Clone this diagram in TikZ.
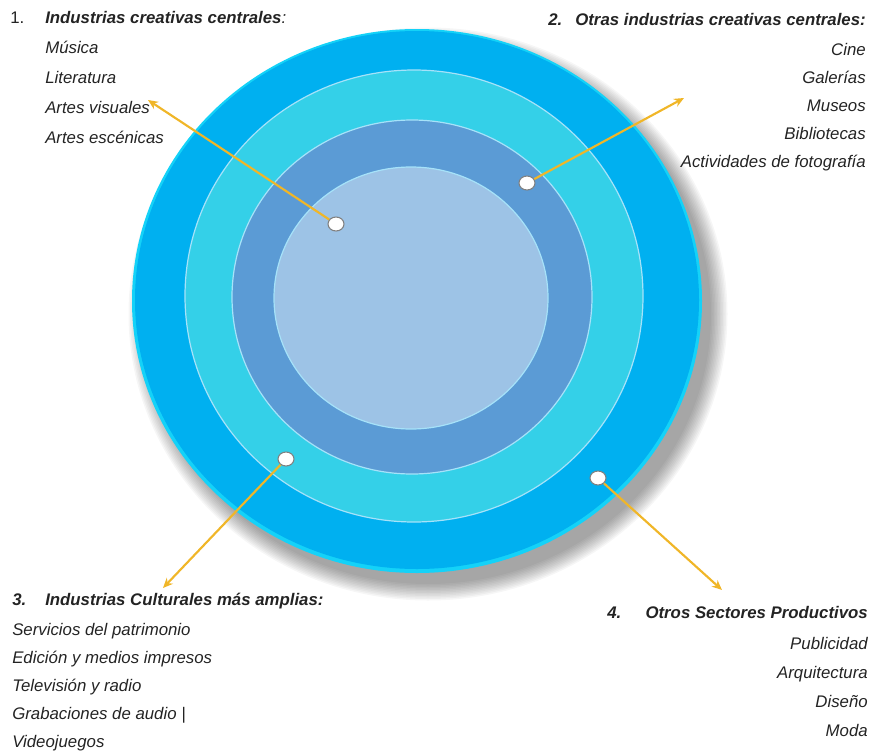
\documentclass[tikz,border=0pt]{standalone}
\usepackage{fontspec}
\setmainfont{Liberation Sans}
\usepackage{tikz}
\usetikzlibrary{arrows.meta,shapes}
\definecolor{outerBlue}{RGB}{0,176,240}
\definecolor{rimCyan}{RGB}{20,210,248}
\definecolor{ringCyan}{RGB}{52,208,232}
\definecolor{ringBlue}{RGB}{91,155,213}
\definecolor{coreBlue}{RGB}{157,195,230}
\definecolor{arrowGold}{RGB}{240,182,40}
\definecolor{textGrey}{RGB}{35,35,35}

\begin{document}
\begin{tikzpicture}
	[ x=0.75pt, y=-0.75pt,
		ring/.style={line width=0.9pt,draw=white!65!cyan},
		spot/.style={ellipse,draw=gray,line width=0.8pt,fill=white,minimum width=12pt,minimum height=10.5pt,inner sep=0pt},
		ringArrow/.style={-{Stealth[length=7.5pt,width=6.5pt]},line width=1.6pt,draw=arrowGold},
		heading/.style={font=\fontsize{12.6}{14}\selectfont\bfseries\itshape,text=textGrey,inner sep=0pt},
		item/.style={font=\fontsize{12.6}{14}\selectfont\itshape,text=textGrey,inner sep=0pt},
		number/.style={font=\fontsize{12.6}{14}\selectfont,text=textGrey,inner sep=0pt}]

	\useasboundingbox (0,0) rectangle (871,753);

	% shadow and rings
	\foreach \k in {0,...,11}
		\fill[black,opacity=0.035] (428,314) ellipse ({283+1.5*\k} and {270+1.5*\k});
	\fill[rimCyan] (417,301) ellipse (285 and 272);
	\fill[outerBlue] (417,300) ellipse (282 and 269);
	\fill[ringCyan,ring] (414,296) ellipse (229 and 226);
	\fill[ringBlue,ring] (412,297) ellipse (180 and 177);
	\fill[coreBlue,ring] (411,298) ellipse (137 and 131);

	% markers on the rings
	\node[spot] (core spot) at (336,224) {};
	\node[spot] (inner spot) at (527,183) {};
	\node[spot] (middle spot) at (286,459) {};
	\node[spot] (outer spot) at (598,478) {};

	\coordinate (core tip) at (148,100);
	\coordinate (inner tip) at (684,98);
	\coordinate (middle tip) at (163,588);
	\coordinate (outer tip) at (722,590);

	\draw[ringArrow] (core spot) -- (core tip);
	\draw[ringArrow] (inner spot) -- (inner tip);
	\draw[ringArrow] (middle spot) -- (middle tip);
	\draw[ringArrow] (outer spot) -- (outer tip);

	% 1. top left
	\node[number,anchor=base west] (num core) at (10,23) {1.};
	\node[heading,anchor=base west] (head core) at (45,23) {Industrias creativas centrales{\mdseries:}};
	\foreach \txt [count=\i] in {Música,Literatura,Artes visuales,Artes escénicas}
		\node[item,anchor=base west] (core \i) at (45,{53+30.3*(\i-1)}) {\txt};

	% 2. top right
	\node[heading,anchor=base west] (num inner) at (548,25) {2.};
	\node[heading,anchor=base east] (head inner) at (866,25) {Otras industrias creativas centrales:};
	\foreach \txt [count=\i] in {Cine,Galerías,Museos,Bibliotecas,Actividades de fotografía}
		\node[item,anchor=base east] (inner \i) at (866,{55+28.2*(\i-1)}) {\txt};

	% 3. bottom left
	\node[heading,anchor=base west] (num middle) at (12,605) {3.};
	\node[heading,anchor=base west] (head middle) at (45,605) {Industrias Culturales más amplias:};
	\foreach \txt [count=\i] in {Servicios del patrimonio,Edición y medios impresos,Televisión y radio,Grabaciones de audio |,Videojuegos}
		\node[item,anchor=base west] (middle \i) at (12,{635+28*(\i-1)}) {\txt};

	% 4. bottom right
	\node[heading,anchor=base west] (num outer) at (607,618) {4.};
	\node[heading,anchor=base east] (head outer) at (868,618) {Otros Sectores Productivos};
	\foreach \txt [count=\i] in {Publicidad,Arquitectura,Diseño,Moda}
		\node[item,anchor=base east] (outer \i) at (868,{649+29.3*(\i-1)}) {\txt};
\end{tikzpicture}
\end{document}
